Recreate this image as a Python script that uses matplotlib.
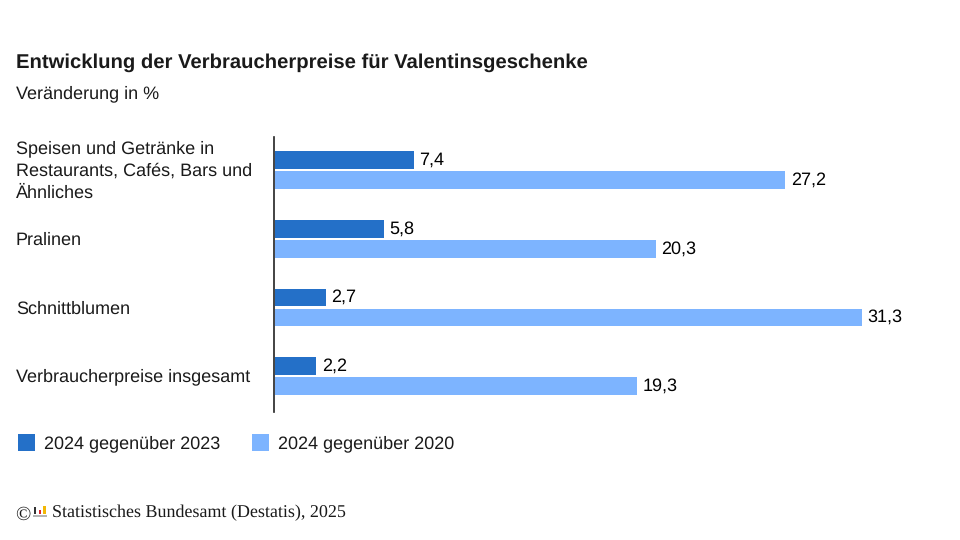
import matplotlib.pyplot as plt
from matplotlib.patches import Rectangle

categories = ['Speisen und Getränke in\nRestaurants, Cafés, Bars und\nÄhnliches', 'Pralinen',
              'Schnittblumen', 'Verbraucherpreise insgesamt']
label_y = [171, 240, 309, 377]
values_2023 = [7.4, 5.8, 2.7, 2.2]
values_2020 = [27.2, 20.3, 31.3, 19.3]
legend_labels = ['2024 gegenüber 2023', '2024 gegenüber 2020']
color_2023 = '#2470c8'
color_2020 = '#7db4ff'
text_color = '#1a1a1a'

plt.rcParams['font.family'] = ['Liberation Sans', 'DejaVu Sans']
plt.rcParams['text.hinting'] = 'none'

fig = plt.figure(figsize=(9.6, 5.4), dpi=100)

# axes box in pixels: x 274..., y 137..412
ax = fig.add_axes([274 / 960, 1 - 412 / 540, 660 / 960, 275 / 540])
ax.set_xlim(0, 660 / 18.75)
ax.set_ylim(3.5, -0.5)

for i, (a, b) in enumerate(zip(values_2023, values_2020)):
    ax.barh(i - 0.165, a, height=0.26, left=0.05, color=color_2023)
    ax.barh(i + 0.125, b, height=0.26, left=0.05, color=color_2020)
    ax.text(a + 0.36, i - 0.165, f'{a:.1f}'.replace('.', ','), va='center', fontsize=13, color='black')
    ax.text(b + 0.36, i + 0.125, f'{b:.1f}'.replace('.', ','), va='center', fontsize=13, color='black')
    fig.text(16 / 960, 1 - label_y[i] / 540, categories[i], va='center', ha='left',
             fontsize=13, color=text_color, linespacing=1.42)

ax.set_xticks([])
ax.set_yticks([])
for side in ['top', 'right', 'bottom']:
    ax.spines[side].set_visible(False)
ax.spines['left'].set_linewidth(1.2)
ax.spines['left'].set_color('#222222')
ax.patch.set_alpha(0)

fig.text(16 / 960, 1 - 63 / 540, 'Entwicklung der Verbraucherpreise für Valentinsgeschenke', fontsize=14.55,
         fontweight='bold', va='center', color=text_color)
fig.text(16 / 960, 1 - 94 / 540, 'Veränderung in %', fontsize=13, va='center', color=text_color)

# legend
for x0, col, lab, tx in zip([17.5, 251.5], [color_2023, color_2020], legend_labels, [44, 278]):
    fig.add_artist(Rectangle((x0 / 960, 1 - 451 / 540), 17.5 / 960, 17.5 / 540, transform=fig.transFigure,
                             facecolor=col, edgecolor='none'))
    fig.text(tx / 960, 1 - 443.5 / 540, lab, fontsize=13, va='center', color=text_color)

# source line with small logo bars
fig.text(15 / 960, 1 - 514.5 / 540, '©', fontsize=14.5, va='center', family='Liberation Serif', color=text_color)
for x0, y0, h, col in zip([33.5, 38.5, 43], [514, 514, 514], [7, 4.5, 8], ['#333333', '#d8262c', '#f2b705']):
    fig.add_artist(Rectangle((x0 / 960, 1 - y0 / 540), 2.5 / 960, h / 540, transform=fig.transFigure,
                             facecolor=col, edgecolor='none'))
fig.add_artist(Rectangle((33 / 960, 1 - 517 / 540), 14 / 960, 2.5 / 540, transform=fig.transFigure,
                         facecolor='#b5b5b5', edgecolor='none'))
fig.text(52 / 960, 1 - 512.5 / 540, 'Statistisches Bundesamt (Destatis), 2025', fontsize=13,
         va='center', family='Liberation Serif', color=text_color)

fig.savefig('out.png', dpi=100)
